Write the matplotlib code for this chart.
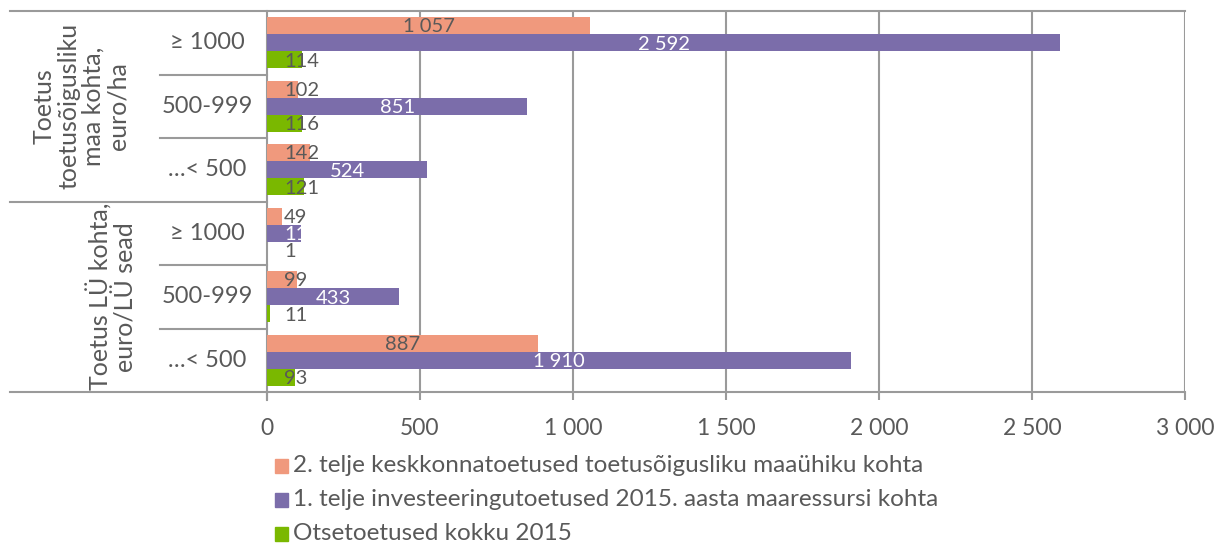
import matplotlib
matplotlib.use("Agg")
import matplotlib.pyplot as plt
from matplotlib.patches import Rectangle
import numpy as np

plt.rcParams['font.family'] = ['Lato', 'DejaVu Sans']

categories = ["≥ 1000", "500-999", "…< 500", "≥ 1000", "500-999", "…< 500"]
groups = ["Toetus\ntoetusõigusliku\nmaa kohta,\neuro/ha", "Toetus LÜ kohta,\neuro/LÜ sead"]
series_names = ["2. telje keskkonnatoetused toetusõigusliku maaühiku kohta",
                "1. telje investeeringutoetused 2015. aasta maaressursi kohta",
                "Otsetoetused kokku 2015"]
env_support = [1057, 102, 142, 49, 99, 887]
invest_support = [2592, 851, 524, 110, 433, 1910]
direct_support = [114, 116, 121, 1, 11, 93]
xticks = [0, 500, 1000, 1500, 2000, 2500, 3000]
xticklabels = ["0", "500", "1 000", "1 500", "2 000", "2 500", "3 000"]

colors = ["#F0997D", "#7B6DAA", "#7AB800"]
label_colors = ["#595959", "#FFFFFF", "#595959"]
grid_c = "#9A9A9A"
txt_c = "#595959"

def fmt(v):
    return f"{v:,}".replace(",", " ")

W, H = 1214, 548
fig = plt.figure(figsize=(W / 100, H / 100), dpi=100)
ax = fig.add_axes([267 / W, 1 - 392 / H, (1185 - 267) / W, (392 - 11) / H])

y = np.arange(len(categories))
bh = 0.27
offsets = [-bh, 0, bh]
all_series = [env_support, invest_support, direct_support]
for s, vals in enumerate(all_series):
    ax.barh(y + offsets[s], vals, height=bh, color=colors[s], zorder=3)
    for yi, v in zip(y, vals):
        txt = "11" if v == 110 else fmt(v)
        left = v / 2 - len(txt) * 19
        if left < 56:
            xpos, ha = 56, "left"
        else:
            xpos, ha = v / 2, "center"
        ax.text(xpos, yi + offsets[s] + 0.02, txt, ha=ha, va="center",
                fontsize=14.5, color=label_colors[s], zorder=4)

ax.set_xlim(0, 3000)
ax.set_ylim(len(categories) - 0.5, -0.5)
ax.set_xticks(xticks)
ax.set_xticklabels(xticklabels, fontsize=16.5, color=txt_c)
ax.tick_params(axis="x", length=6, width=1.5, color=grid_c, pad=13)
ax.set_yticks([])
for xv in xticks[1:]:
    ax.axvline(xv, color=grid_c, lw=1.5, zorder=1)
for sp in ["top", "right"]:
    ax.spines[sp].set_visible(False)
for sp in ["left", "bottom"]:
    ax.spines[sp].set_color(grid_c)
    ax.spines[sp].set_linewidth(1.5)

# separators
x_sub = (160 - 267) / (1185 - 267)
x_grp = (10 - 267) / (1185 - 267)
trans = ax.get_yaxis_transform()
for b in [0.5, 1.5, 3.5, 4.5]:
    ax.plot([x_sub, 0], [b, b], transform=trans, color=grid_c, lw=1.5, clip_on=False)
for b in [-0.5, 2.5, 5.5]:
    ax.plot([x_grp, 1.0 if b == -0.5 else 0], [b, b], transform=trans, color=grid_c, lw=1.5, clip_on=False)
ax.plot([0, 0], [5.5, 5.63], transform=trans, color=grid_c, lw=1.5, clip_on=False)

x_cat = (207 - 267) / (1185 - 267)
for yi, c in zip(y, categories):
    ax.text(x_cat, yi, c, transform=trans, ha="center", va="center", fontsize=17, color=txt_c)

ax.text((81 - 267) / (1185 - 267), 1.0, groups[0], transform=trans, rotation=90,
        ha="center", va="center", fontsize=18, color=txt_c, linespacing=1.1, multialignment="center")
ax.text((112 - 267) / (1185 - 267), 4.0, groups[1], transform=trans, rotation=90,
        ha="center", va="center", fontsize=18, color=txt_c, linespacing=1.1, multialignment="center")

# legend
for i, name in enumerate(series_names):
    yc = 466 + i * 34
    fig.patches.append(Rectangle((275 / W, 1 - (yc + 7) / H), 13 / W, 14 / H,
                                 transform=fig.transFigure, color=colors[i]))
    fig.text(293 / W, 1 - yc / H, name, ha="left", va="center", fontsize=17.5, color=txt_c)

fig.savefig("out.png", dpi=100)
